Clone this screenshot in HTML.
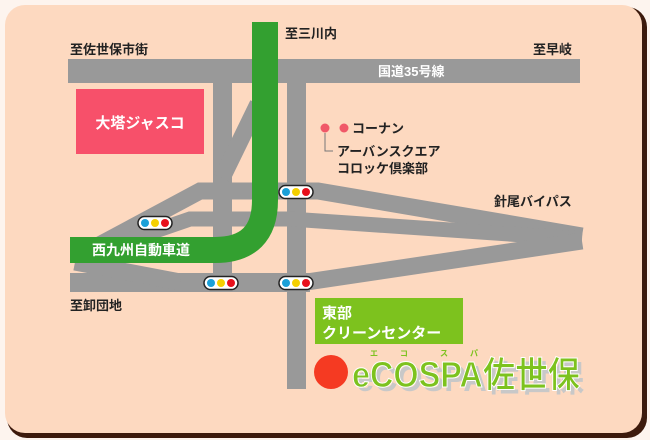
<!DOCTYPE html>
<html><head><meta charset="utf-8"><style>
html,body{margin:0;padding:0;background:#fdf4ee;width:650px;height:440px;overflow:hidden}
</style></head><body>
<svg width="650" height="440" viewBox="0 0 650 440" xmlns="http://www.w3.org/2000/svg" style="display:block;font-family:'Liberation Sans','Noto Sans CJK JP',sans-serif;font-weight:bold">
<rect x="7" y="7" width="640" height="431" rx="20" fill="#3d1a0c"/>
<rect x="5" y="5" width="637" height="428" rx="20" fill="#fdd9c0"/>
<g fill="#999" stroke="none">
<rect x="68" y="59" width="512" height="24"/>
<rect x="213" y="83" width="19" height="200"/>
<rect x="287" y="83" width="19" height="306"/>
<rect x="70" y="273" width="240" height="19"/>
</g>
<g fill="none" stroke="#999" stroke-linejoin="miter">
<polyline points="222,178 258,104" stroke-width="17"/>
<polyline points="75,258 200,191 318,191 582,236" stroke-width="17"/>
<polyline points="100,250 190,219 290,219 582,239" stroke-width="15"/>
<polyline points="75,262 180,282" stroke-width="17"/>
<polyline points="300,283 582,241" stroke-width="17"/>
</g>
<path d="M265,22 V200 Q265,250 215,250 H70" fill="none" stroke="#33a030" stroke-width="26"/>
<rect x="76" y="89" width="128" height="65" fill="#f7506a"/>
<text x="140" y="128" fill="#fff" font-size="15" text-anchor="middle">大塔ジャスコ</text>
<g font-size="13" fill="#222">
<text x="285" y="38">至三川内</text>
<text x="70" y="54">至佐世保市街</text>
<text x="533" y="54">至早岐</text>
<text x="494" y="206">針尾バイパス</text>
<text x="70" y="310">至卸団地</text>
<text x="352" y="133">コーナン</text>
<text x="337" y="156">アーバンスクエア</text>
<text x="337" y="173">コロッケ倶楽部</text>
</g>
<text x="378" y="76" font-size="13" fill="#fff">国道35号線</text>
<text x="92" y="255" font-size="14" fill="#fff">西九州自動車道</text>
<circle cx="325" cy="128" r="4.5" fill="#f05868"/>
<circle cx="344" cy="128" r="4.5" fill="#f05868"/>
<polyline points="325,133 325,151 333,151" fill="none" stroke="#777" stroke-width="1"/>
<g>
<g transform="translate(296,192)"><rect x="-17" y="-6.5" width="34" height="13" rx="6.5" fill="#fff" stroke="#222" stroke-width="1.5"/><circle cx="-10" cy="0" r="4" fill="#1aa0d8"/><circle cx="0" cy="0" r="4" fill="#f5d000"/><circle cx="10" cy="0" r="4" fill="#e8101c"/></g>
<g transform="translate(155,223)"><rect x="-17" y="-6.5" width="34" height="13" rx="6.5" fill="#fff" stroke="#222" stroke-width="1.5"/><circle cx="-10" cy="0" r="4" fill="#1aa0d8"/><circle cx="0" cy="0" r="4" fill="#f5d000"/><circle cx="10" cy="0" r="4" fill="#e8101c"/></g>
<g transform="translate(221,283)"><rect x="-17" y="-6.5" width="34" height="13" rx="6.5" fill="#fff" stroke="#222" stroke-width="1.5"/><circle cx="-10" cy="0" r="4" fill="#1aa0d8"/><circle cx="0" cy="0" r="4" fill="#f5d000"/><circle cx="10" cy="0" r="4" fill="#e8101c"/></g>
<g transform="translate(296,283)"><rect x="-17" y="-6.5" width="34" height="13" rx="6.5" fill="#fff" stroke="#222" stroke-width="1.5"/><circle cx="-10" cy="0" r="4" fill="#1aa0d8"/><circle cx="0" cy="0" r="4" fill="#f5d000"/><circle cx="10" cy="0" r="4" fill="#e8101c"/></g>
</g>
<rect x="315" y="298" width="148" height="46" fill="#7dc21e"/>
<text x="322" y="318" font-size="15" fill="#fff">東部</text>
<text x="322" y="338" font-size="15" fill="#fff">クリーンセンター</text>
<circle cx="331" cy="372" r="17" fill="#f53a22"/>
<g font-size="8" fill="#7dc21e"><text x="370" y="356">エ</text><text x="400" y="356">コ</text><text x="440" y="356">ス</text><text x="470" y="356">パ</text></g>
<text x="354" y="389" font-size="36" fill="#c8c8c8" textLength="228" lengthAdjust="spacingAndGlyphs" transform="translate(2,2)">eCOSPA佐世保</text>
<text x="352" y="387" font-size="36" fill="#7dc21e" stroke="#fff" stroke-width="1" textLength="228" lengthAdjust="spacingAndGlyphs">eCOSPA佐世保</text>
</svg>
</body></html>
